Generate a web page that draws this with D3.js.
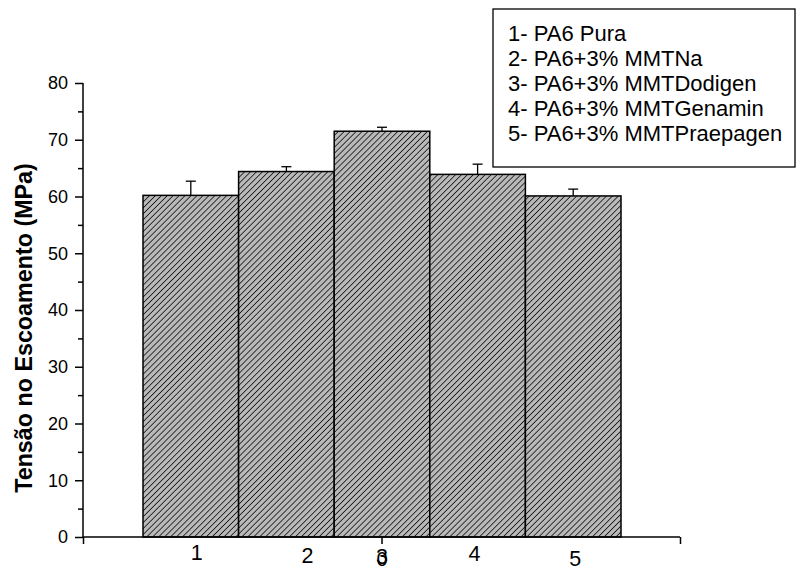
<!DOCTYPE html>
<html>
<head>
<meta charset="utf-8">
<script src="https://cdn.jsdelivr.net/npm/d3@7"></script>
<style>
  html, body { margin: 0; padding: 0; background: #fff; }
  svg { display: block; font-family: Arial, "Liberation Sans", sans-serif; }
</style>
</head>
<body>
<svg id="chart" width="797" height="572"></svg>
<script>
// ---- data ----
const categories = ["1", "2", "3", "4", "5"];
const values = [60.2, 64.4, 71.5, 63.9, 60.1];
const errors = [2.5, 0.85, 0.7, 1.8, 1.2];
const legendLabels = [
  "1- PA6 Pura",
  "2- PA6+3% MMTNa",
  "3- PA6+3% MMTDodigen",
  "4- PA6+3% MMTGenamin",
  "5- PA6+3% MMTPraepagen"
];
const yTicks = [0, 10, 20, 30, 40, 50, 60, 70, 80];
const yMinorTicks = [5, 15, 25, 35, 45, 55, 65, 75];
const xAxisTicks = [-1, 0, 1];
const yLabel = "Tensão no Escoamento (MPa)";

// ---- layout ----
const svg = d3.select("#chart");
const axisX0 = 83, axisX1 = 680, axisY0 = 537, axisY1 = 83;

const y = d3.scaleLinear().domain([0, 80]).range([axisY0, axisY1]);
const xBand = d3.scaleBand().domain(categories).range([143, 621]).paddingInner(0).paddingOuter(0);
const xAxisScale = d3.scaleLinear().domain([-1, 1]).range([axisX0, axisX1]);

// hatch pattern
const defs = svg.append("defs");
const pat = defs.append("pattern")
  .attr("id", "hatch")
  .attr("patternUnits", "userSpaceOnUse")
  .attr("width", 4.2).attr("height", 4.2)
  .attr("patternTransform", "rotate(45)");
pat.append("rect").attr("width", 4.2).attr("height", 4.2).attr("fill", "#b9b9b9");
pat.append("line").attr("x1", 0).attr("y1", 0).attr("x2", 0).attr("y2", 4.2)
  .attr("stroke", "#111").attr("stroke-width", 1.6);

// bars
const barData = categories.map((c, i) => ({ c, v: values[i], e: errors[i] }));
svg.append("g").selectAll("rect").data(barData).join("rect")
  .attr("x", d => xBand(d.c))
  .attr("y", d => y(d.v))
  .attr("width", xBand.bandwidth())
  .attr("height", d => y(0) - y(d.v))
  .attr("fill", "url(#hatch)")
  .attr("stroke", "#000")
  .attr("stroke-width", 1.5);

// error bars (upper)
const eg = svg.append("g").attr("stroke", "#000").attr("stroke-width", 1.3);
barData.forEach(d => {
  const cx = xBand(d.c) + xBand.bandwidth() / 2;
  eg.append("line").attr("x1", cx).attr("x2", cx).attr("y1", y(d.v)).attr("y2", y(d.v + d.e));
  eg.append("line").attr("x1", cx - 5).attr("x2", cx + 5).attr("y1", y(d.v + d.e)).attr("y2", y(d.v + d.e));
});

// y axis
const yAxis = d3.axisLeft(y).tickValues(yTicks).tickSize(8).tickPadding(7).tickFormat(d3.format("d"));
const gy = svg.append("g").attr("transform", `translate(${axisX0},0)`).call(yAxis);
gy.select(".domain").attr("stroke-width", 1.5).attr("d", `M0,${axisY0}V${axisY1}`);
gy.selectAll(".tick line").attr("stroke-width", 1.5);
gy.selectAll(".tick text").attr("font-size", 18).attr("fill", "#000")
  .attr("font-family", "Arial, 'Liberation Sans', sans-serif");
const yMinor = d3.axisLeft(y).tickValues(yMinorTicks).tickSize(5).tickFormat("");
const gym = svg.append("g").attr("transform", `translate(${axisX0},0)`).call(yMinor);
gym.select(".domain").remove();
gym.selectAll(".tick line").attr("stroke-width", 1.5);

// x axis
const xAxis = d3.axisBottom(xAxisScale).tickValues(xAxisTicks).tickSize(7)
  .tickFormat(d => d === 0 ? "0" : "");
const gx = svg.append("g").attr("transform", `translate(0,${axisY0})`).call(xAxis);
gx.select(".domain").attr("stroke-width", 1.5).attr("d", `M${axisX0},0H${axisX1}`);
gx.selectAll(".tick line").attr("stroke-width", 1.5);
gx.selectAll(".tick text").attr("font-size", 20).attr("fill", "#000").attr("y", 15)
  .attr("font-family", "Arial, 'Liberation Sans', sans-serif");

// category labels under bars (Origin-style text labels, slightly offset)
const labelNudgeX = [6, 21, 0, -3, 2];
const labelBase = [560, 563, 564, 561, 566];
svg.append("g").selectAll("text").data(categories).join("text")
  .attr("x", (c, i) => xBand(c) + xBand.bandwidth() / 2 + labelNudgeX[i])
  .attr("y", (c, i) => labelBase[i])
  .attr("text-anchor", "middle")
  .attr("font-size", 21.5)
  .text(c => c);

// y label
svg.append("text")
  .attr("transform", "translate(32,328) rotate(-90)")
  .attr("text-anchor", "middle")
  .attr("font-size", 23.3)
  .attr("font-weight", "bold")
  .text(yLabel);

// legend
const lg = svg.append("g");
lg.append("rect").attr("x", 493).attr("y", 9).attr("width", 302).attr("height", 158)
  .attr("fill", "#fff").attr("stroke", "#000").attr("stroke-width", 1.3);
lg.selectAll("text").data(legendLabels).join("text")
  .attr("x", 508)
  .attr("y", (d, i) => 41 + i * 25)
  .attr("font-size", 22)
  .text(d => d);
</script>
</body>
</html>
